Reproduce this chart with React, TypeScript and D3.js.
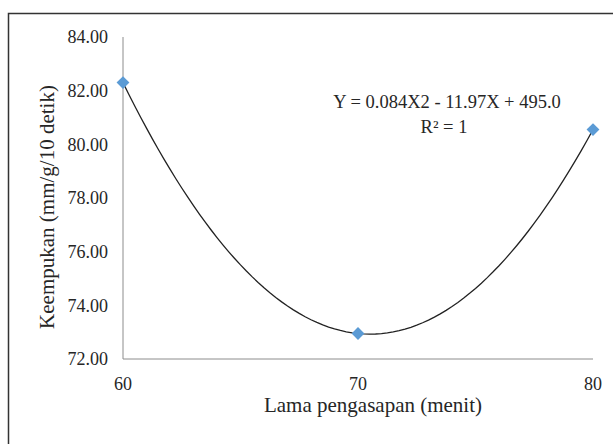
import React, { useEffect, useRef } from 'react';
import * as d3 from 'd3';

const durations = [60, 70, 80];
const tenderness = [82.3, 72.95, 80.55];
const yTicks = [72, 74, 76, 78, 80, 82, 84];
const xTicks = [60, 70, 80];

const App = () => {
  const chartRef = useRef<SVGSVGElement>(null);

  useEffect(() => {
    const svg = d3.select(chartRef.current);
    svg.selectAll('*').remove();
    const font = '"Liberation Serif", "DejaVu Serif", serif';
    const ink = '#262626';

    // outer frame, runs past the right and bottom edges
    svg.append('rect')
      .attr('x', 8.5).attr('y', 13.5)
      .attr('width', 640).attr('height', 460)
      .attr('fill', 'none').attr('stroke', '#333').attr('stroke-width', 1.5);

    const margin = { top: 37, left: 123 };
    const width = 470;
    const height = 322;

    const x = d3.scaleLinear().domain([60, 80]).range([margin.left, margin.left + width]);
    const y = d3.scaleLinear().domain([72, 84]).range([margin.top + height, margin.top]);

    // axes
    svg.append('line')
      .attr('x1', x(60)).attr('x2', x(60)).attr('y1', y(84)).attr('y2', y(72))
      .attr('stroke', '#8c8c8c').attr('stroke-width', 1);
    svg.append('line')
      .attr('x1', x(60)).attr('x2', x(80)).attr('y1', y(72)).attr('y2', y(72))
      .attr('stroke', '#8c8c8c').attr('stroke-width', 1);

    svg.selectAll('.ytick')
      .data(yTicks)
      .enter()
      .append('text')
      .attr('x', x(60) - 15)
      .attr('y', d => y(d))
      .attr('dy', '0.35em')
      .attr('text-anchor', 'end')
      .attr('font-family', font)
      .attr('font-size', 18)
      .attr('fill', ink)
      .text(d => d.toFixed(2));

    svg.selectAll('.xtick')
      .data(xTicks)
      .enter()
      .append('text')
      .attr('x', d => x(d))
      .attr('y', 390)
      .attr('text-anchor', 'middle')
      .attr('font-family', font)
      .attr('font-size', 18)
      .attr('fill', ink)
      .text(d => d);

    // order-2 polynomial through the three points
    const [x0, x1, x2] = durations;
    const [y0, y1, y2] = tenderness;
    const a = ((y2 - y1) / (x2 - x1) - (y1 - y0) / (x1 - x0)) / (x2 - x0);
    const b = (y1 - y0) / (x1 - x0) - a * (x0 + x1);
    const c = y0 - a * x0 * x0 - b * x0;
    const curve = d3.range(60, 80.01, 0.25).map(v => [v, a * v * v + b * v + c] as [number, number]);

    svg.append('path')
      .datum(curve)
      .attr('fill', 'none')
      .attr('stroke', '#222')
      .attr('stroke-width', 1.3)
      .attr('d', d3.line<[number, number]>().x(d => x(d[0])).y(d => y(d[1])));

    svg.selectAll('.pt')
      .data(durations)
      .enter()
      .append('path')
      .attr('transform', (d, i) => `translate(${x(d)},${y(tenderness[i])})`)
      .attr('d', d3.symbol(d3.symbolDiamond2, 105)())
      .attr('fill', '#5b9bd5');

    svg.append('text')
      .attr('x', 447).attr('y', 108)
      .attr('text-anchor', 'middle')
      .attr('font-family', font).attr('font-size', 18.5).attr('fill', ink)
      .text('Y = 0.084X2 - 11.97X + 495.0');
    svg.append('text')
      .attr('x', 444).attr('y', 133)
      .attr('text-anchor', 'middle')
      .attr('font-family', font).attr('font-size', 18.5).attr('fill', ink)
      .text('R² = 1');

    svg.append('text')
      .attr('x', 373).attr('y', 412)
      .attr('text-anchor', 'middle')
      .attr('font-family', font).attr('font-size', 21).attr('fill', ink)
      .text('Lama pengasapan (menit)');

    svg.append('text')
      .attr('transform', 'translate(54,207) rotate(-90)')
      .attr('text-anchor', 'middle')
      .attr('font-family', font).attr('font-size', 21).attr('fill', ink)
      .text('Keempukan (mm/g/10 detik)');
  }, []);

  return (
    <svg
      ref={chartRef}
      width={613}
      height={444}
      style={{ position: 'absolute', left: 0, top: 0, background: '#fff' }}
    ></svg>
  );
};

export default App;
